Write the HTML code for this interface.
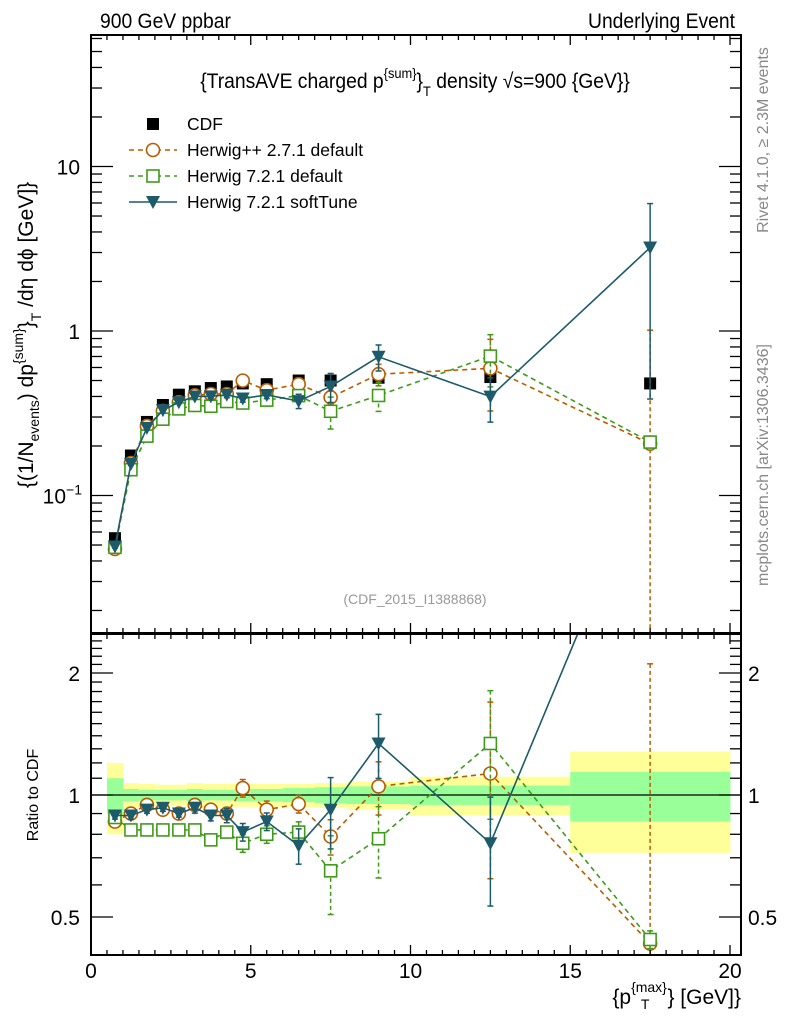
<!DOCTYPE html>
<html><head><meta charset="utf-8">
<style>
html,body{margin:0;padding:0;background:#fff;overflow:hidden;}
svg{display:block;font-family:"Liberation Sans","DejaVu Sans",sans-serif;}
</style></head>
<body>
<svg id="chart" width="786" height="1024" viewBox="0 0 786 1024" xmlns="http://www.w3.org/2000/svg">
<text x="100" y="28" font-size="21" transform="translate(100 0) scale(0.92 1) translate(-100 0)">900 GeV ppbar</text>
<text x="735" y="28" font-size="21" text-anchor="end" transform="translate(735 0) scale(0.92 1) translate(-735 0)">Underlying Event</text>
<text x="415" y="88" font-size="21" text-anchor="middle" transform="translate(415 0) scale(0.92 1) translate(-415 0)">{TransAVE charged p<tspan font-size="14" dy="-10">{sum}</tspan><tspan dy="10">}</tspan><tspan font-size="14" dy="8">T</tspan><tspan dy="-8"> density √s=900 {GeV}}</tspan></text>
<text transform="translate(33 335) rotate(-90)" font-size="21" text-anchor="middle">{(1/N<tspan font-size="14" dy="6">events</tspan><tspan dy="-6">) dp</tspan><tspan font-size="14" dy="-10">{sum}</tspan><tspan dy="10">}</tspan><tspan font-size="14" dy="8">T</tspan><tspan dy="-8"> /dη  dϕ [GeV]}</tspan></text>
<text transform="translate(38 795) rotate(-90)" font-size="16" text-anchor="middle">Ratio to CDF</text>
<text transform="translate(768 140) rotate(-90)" font-size="16" fill="#888" text-anchor="middle">Rivet 4.1.0, ≥ 2.3M events</text>
<text transform="translate(768 465) rotate(-90)" font-size="16" fill="#888" text-anchor="middle">mcplots.cern.ch [arXiv:1306.3436]</text>
<text x="415" y="604" font-size="14" fill="#999" text-anchor="middle">(CDF_2015_I1388868)</text>
<text x="741" y="1004" font-size="21" text-anchor="end">{p<tspan font-size="14" dy="-12">{max}</tspan><tspan font-size="14" dy="17" dx="-26">T</tspan><tspan dy="-5" dx="18">} [GeV]}</tspan></text>
<g id="plot"></g>
</svg>
<script>
const xs = [0.75,1.25,1.75,2.25,2.75,3.25,3.75,4.25,4.75,5.5,6.5,7.5,9,12.5,17.5];
const binLo = [0.5,1,1.5,2,2.5,3,3.5,4,4.5,5,6,7,8,10,15];
const binHi = [1,1.5,2,2.5,3,3.5,4,4.5,5,6,7,8,10,15,20];
const cdf = [0.055,0.175,0.28,0.355,0.41,0.43,0.45,0.46,0.48,0.475,0.5,0.5,0.52,0.525,0.48];
const cdfTot = [0.2,0.07,0.065,0.06,0.06,0.07,0.065,0.065,0.065,0.065,0.065,0.07,0.08,0.11,0.28];
const cdfStat = [0.1,0.035,0.03,0.03,0.03,0.035,0.03,0.03,0.035,0.035,0.04,0.045,0.05,0.055,0.14];
const ratioHpp = [0.86,0.90,0.945,0.92,0.90,0.945,0.92,0.90,1.04,0.92,0.95,0.79,1.05,1.13,0.43];
const ratioH7 = [0.88,0.82,0.82,0.82,0.82,0.82,0.775,0.81,0.76,0.80,0.81,0.65,0.78,1.34,0.44];
const ratioSoft = [0.89,0.89,0.92,0.93,0.90,0.93,0.89,0.89,0.81,0.86,0.75,0.92,1.34,0.76,6.7];
const errHppUp = [0.02,0.02,0.02,0.02,0.02,0.03,0.03,0.03,0.05,0.05,0.05,0.1,0.15,0.5,3.9];
const errHppDn = [0.02,0.02,0.02,0.02,0.02,0.03,0.03,0.03,0.05,0.05,0.05,0.1,0.15,0.45,1.0];
const errH7 = [0.02,0.02,0.02,0.02,0.02,0.03,0.03,0.03,0.05,0.05,0.06,0.22,0.2,0.35,0.05];
const errSoftUp = [0.02,0.02,0.02,0.02,0.02,0.03,0.03,0.04,0.05,0.05,0.1,0.2,0.18,0.3,0.85];
const errSoftDn = [0.02,0.02,0.02,0.02,0.02,0.03,0.03,0.04,0.05,0.05,0.1,0.2,0.18,0.3,0.88];
const xTicks = [0,5,10,15,20];
const rTicks = [0.5,1,2];

const NS="http://www.w3.org/2000/svg";
const L=91,R=741,T=35,B=633,RT=634,RB=955;
const X=v=>L+v*31.95;
const Y=v=>331-164.5*Math.log10(v);
const RY=v=>795-122*Math.log2(v);
const g=document.getElementById('plot');
function el(tag,attrs,parent){const e=document.createElementNS(NS,tag);for(const k in attrs)e.setAttribute(k,attrs[k]);(parent||g).appendChild(e);return e;}

const defs=el('defs',{});
const c1=el('clipPath',{id:'cu'},defs);el('rect',{x:L,y:T,width:R-L,height:B-T},c1);
const c2=el('clipPath',{id:'cr'},defs);el('rect',{x:L,y:RT,width:R-L,height:RB-RT},c2);

const bandG=el('g',{'clip-path':'url(#cr)'});


for(let i=0;i<xs.length;i++){
  const y1=RY(1+cdfTot[i]),y2=RY(1-cdfTot[i]);
  const r=el('rect',{x:X(binLo[i]),y:y1,width:X(binHi[i])-X(binLo[i])+0.5,height:y2-y1,fill:'#ffff99'},bandG);
  
  
  const s1=RY(1+cdfStat[i]),s2=RY(1-cdfStat[i]);
  const s=el('rect',{x:X(binLo[i]),y:s1,width:X(binHi[i])-X(binLo[i])+0.5,height:s2-s1,fill:'#99ff99'},bandG);
  
  
}
el('line',{x1:L,x2:R,y1:RY(1),y2:RY(1),stroke:'#000','stroke-width':1.2});

const series=[
 {name:'herwigpp-271-default',ratio:ratioHpp,up:errHppUp,dn:errHppDn,color:'#b85c00',dash:'5,4',marker:'circle'},
 {name:'herwig-721-default',ratio:ratioH7,up:errH7,dn:errH7,color:'#3f9a1a',dash:'5,4',marker:'square'},
 {name:'herwig-721-softtune',ratio:ratioSoft,up:errSoftUp,dn:errSoftDn,color:'#1d5b6b',dash:'',marker:'tri'}
];
function marker(parent,m,x,y,color){
  if(m==='circle')return el('circle',{cx:x,cy:y,r:6.5,fill:'#fff',stroke:color,'stroke-width':1.6},parent);
  if(m==='square')return el('rect',{x:x-6,y:y-6,width:12,height:12,fill:'#fff',stroke:color,'stroke-width':1.6},parent);
  if(m==='tri')return el('path',{d:`M${x-7},${y-6}L${x+7},${y-6}L${x},${y+7}Z`,fill:color},parent);
  return el('rect',{x:x-6,y:y-6,width:12,height:12,fill:'#000'},parent);
}
function drawSeries(panel){
  const clip=panel==='main'?'url(#cu)':'url(#cr)';
  const yf=panel==='main'?Y:RY;
  series.forEach(s=>{
    const sg=el('g',{'clip-path':clip});
    
    
    const vals=xs.map((x,i)=>panel==='main'?s.ratio[i]*cdf[i]:s.ratio[i]);
    el('polyline',{points:xs.map((x,i)=>X(x)+','+yf(vals[i])).join(' '),fill:'none',stroke:s.color,'stroke-width':1.6,'stroke-dasharray':s.dash},sg);
    xs.forEach((x,i)=>{
      const v=vals[i];
      if(panel==='ratio' && v>2.5) return;
      const hi=v*(1+s.up[i]),lo=Math.max(v*(1-s.dn[i]),1e-4);
      const yh=yf(hi),yl=yf(lo);
      el('line',{x1:X(x),x2:X(x),y1:yh,y2:yl,stroke:s.color,'stroke-width':1.5,'stroke-dasharray':s.dash?'4,3':''},sg);
      el('line',{x1:X(x)-3,x2:X(x)+3,y1:yh,y2:yh,stroke:s.color,'stroke-width':1.5},sg);
      el('line',{x1:X(x)-3,x2:X(x)+3,y1:yl,y2:yl,stroke:s.color,'stroke-width':1.5},sg);
      const mk=marker(sg,s.marker,X(x),yf(v),s.color);
      
      
    });
  });
}
const cg=el('g',{'clip-path':'url(#cu)'});


xs.forEach((x,i)=>{
  const m=marker(cg,'data',X(x),Y(cdf[i]),'#000');
  
  
});
drawSeries('main');
drawSeries('ratio');

el('rect',{x:L,y:T,width:R-L,height:B-T,fill:'none',stroke:'#000','stroke-width':2});
el('rect',{x:L,y:RT,width:R-L,height:RB-RT,fill:'none',stroke:'#000','stroke-width':2});

for(let v=0;v<=20.3;v+=0.5){
  const maj=Math.abs(v%5)<1e-6, len=maj?10:5;
  [[T,1],[B,-1],[RT,1],[RB,-1]].forEach(([y,d])=>{
    el('line',{x1:X(v),x2:X(v),y1:y,y2:y+d*len,stroke:'#000','stroke-width':1.3});
  });
}
xTicks.forEach(v=>{
  const t=el('text',{x:X(v),y:978,'font-size':21,'text-anchor':'middle'});
  t.textContent=v;
  
  
});
for(let e=-2;e<=1;e++){
  for(let k=1;k<=9;k++){
    const v=k*Math.pow(10,e), y=Y(v);
    if(y<T||y>B)continue;
    const len=k===1?22:11;
    el('line',{x1:L,x2:L+len,y1:y,y2:y,stroke:'#000','stroke-width':1.3});
    el('line',{x1:R,x2:R-len,y1:y,y2:y,stroke:'#000','stroke-width':1.3});
  }
}
const yl1=el('text',{x:80,y:Y(10)+8,'font-size':21,'text-anchor':'end'});yl1.textContent='10';


const yl2=el('text',{x:80,y:Y(1)+8,'font-size':21,'text-anchor':'end'});yl2.textContent='1';


const yl3=el('text',{x:82,y:Y(0.1)+8,'font-size':21,'text-anchor':'end'});
yl3.innerHTML='10<tspan font-size="14" dy="-9">−1</tspan>';


for(let v=0.4;v<=2.5;v+=0.1){
  const y=RY(v); if(y<RT||y>RB)continue;
  const maj=rTicks.some(t=>Math.abs(t-v)<1e-6), len=maj?22:11;
  el('line',{x1:L,x2:L+len,y1:y,y2:y,stroke:'#000','stroke-width':1.3});
  el('line',{x1:R,x2:R-len,y1:y,y2:y,stroke:'#000','stroke-width':1.3});
}
rTicks.forEach(v=>{
  const a=el('text',{x:80,y:RY(v)+8,'font-size':21,'text-anchor':'end'});a.textContent=v;
  
  
  const b=el('text',{x:748,y:RY(v)+8,'font-size':21});b.textContent=v;
  
  
});
const lg=el('g',{});


const labels={'herwigpp-271-default':'Herwig++ 2.7.1 default','herwig-721-default':'Herwig 7.2.1 default','herwig-721-softtune':'Herwig 7.2.1 softTune'};
const entries=[{label:'CDF',m:'data',c:'#000',d:null},...series.map(s=>({label:labels[s.name],m:s.marker,c:s.color,d:s.dash}))];
entries.forEach((e,i)=>{
  const y=124+i*26;
  const eg=el('g',{},lg);
  
  
  if(e.d!==null)el('line',{x1:129,x2:177,y1:y,y2:y,stroke:e.c,'stroke-width':1.6,'stroke-dasharray':e.d},eg);
  marker(eg,e.m,153,y,e.c);
  const t=el('text',{x:187,y:y+6,'font-size':17.5},eg);t.textContent=e.label;
});
</script>
</body></html>
